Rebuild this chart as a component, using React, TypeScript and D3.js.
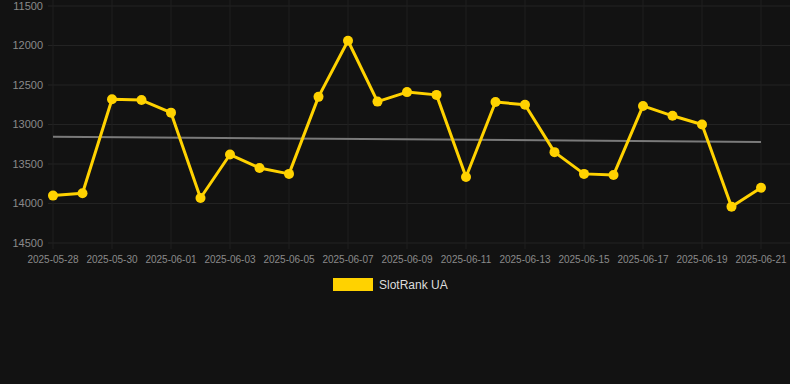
import React from "react";
import * as d3 from "d3";

const dates = [
  "2025-05-28","2025-05-29","2025-05-30","2025-05-31","2025-06-01","2025-06-02","2025-06-03",
  "2025-06-04","2025-06-05","2025-06-06","2025-06-07","2025-06-08","2025-06-09","2025-06-10",
  "2025-06-11","2025-06-12","2025-06-13","2025-06-14","2025-06-15","2025-06-16","2025-06-17",
  "2025-06-18","2025-06-19","2025-06-20","2025-06-21",
];
const ranks = [
  13900, 13870, 12680, 12690, 12850, 13930, 13380, 13550, 13625, 12650, 11940, 12710, 12590,
  12625, 13665, 12715, 12750, 13350, 13625, 13640, 12765, 12890, 13000, 14040, 13800,
];
const trendStart = 13155;
const trendEnd = 13220;
const yTicks = [11500, 12000, 12500, 13000, 13500, 14000, 14500];
const xTickLabels = dates.filter((_, i) => i % 2 === 0);
const seriesName = "SlotRank UA";

const W = 790, H = 384;
const left = 53, right = 761, top = 6, bottom = 243;

export default function App() {
  const parse = d3.timeParse("%Y-%m-%d");
  const x = d3.scaleTime()
    .domain([parse(dates[0])!, parse(dates[dates.length - 1])!])
    .range([left, right]);
  const y = d3.scaleLinear().domain([11500, 14500]).range([top, bottom]);
  const pts = dates.map((d, i) => [x(parse(d)!), y(ranks[i])] as [number, number]);
  const line = d3.line()(pts) || "";
  const font = "Liberation Sans, Arial, Helvetica, sans-serif";
  return (
    <svg width={W} height={H} style={{ position: "absolute", left: 0, top: 0, background: "#121212" }}>
      <rect x={0} y={0} width={W} height={H} fill="#121212" />
      {yTicks.map((t) => (
        <g key={t}>
          <line x1={48} x2={W} y1={y(t)} y2={y(t)} stroke="#232323" strokeWidth={1} />
          <text x={43} y={y(t)} dy="0.35em" textAnchor="end" fill="#8a8a8a" fontSize={11} fontFamily={font}>{t}</text>
        </g>
      ))}
      {xTickLabels.map((d) => {
        const xx = x(parse(d)!);
        return (
          <g key={d}>
            <line x1={xx} x2={xx} y1={0} y2={bottom + 6} stroke="#1f1f1f" strokeWidth={1} />
            <text x={xx} y={259} dy="0.35em" textAnchor="middle" fill="#8a8a8a" fontSize={10} fontFamily={font}>{d}</text>
          </g>
        );
      })}
      <line x1={left} x2={right} y1={y(trendStart)} y2={y(trendEnd)} stroke="#7a7a7a" strokeWidth={2} />
      <path d={line} fill="none" stroke="#FFD200" strokeWidth={3} strokeLinejoin="round" />
      {pts.map((p, i) => (
        <circle key={i} cx={p[0]} cy={p[1]} r={5} fill="#FFD200" />
      ))}
      <rect x={333} y={278} width={40} height={13} fill="#FFD200" />
      <text x={379} y={284.5} dy="0.35em" fill="#dddddd" fontSize={12} fontFamily={font}>{seriesName}</text>
    </svg>
  );
}
